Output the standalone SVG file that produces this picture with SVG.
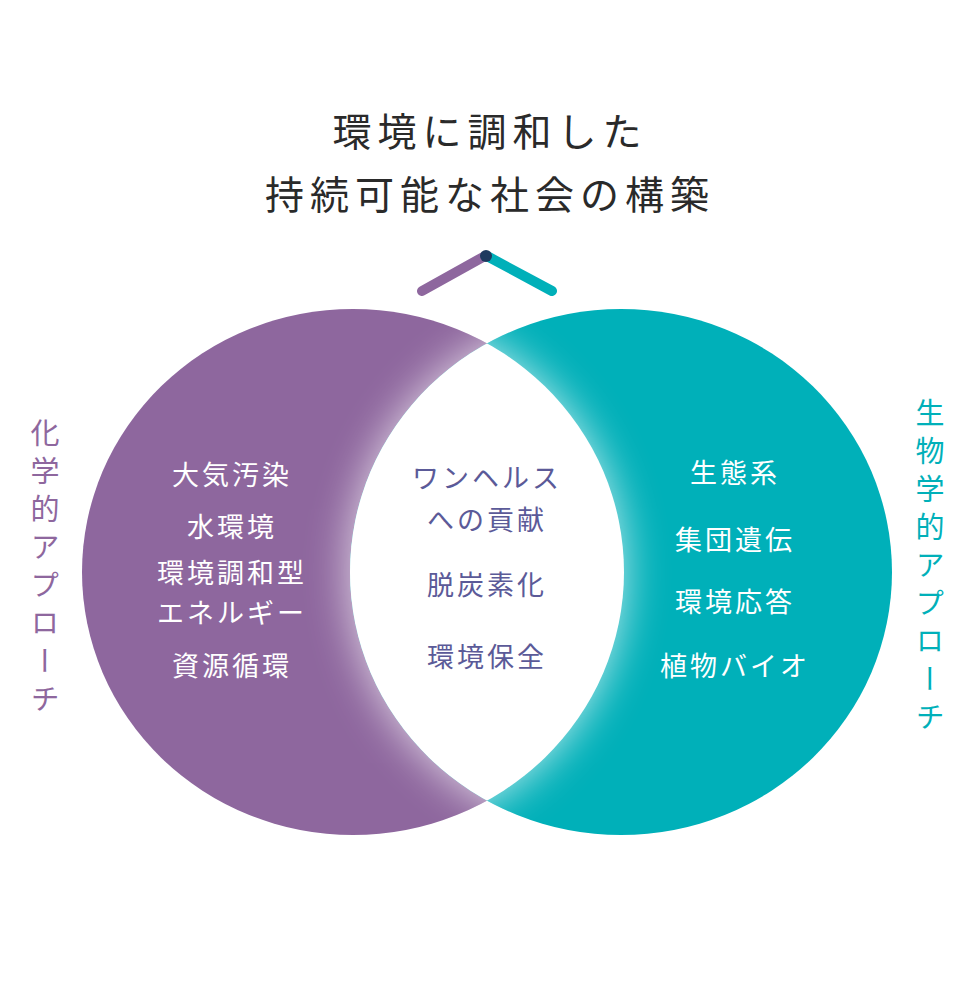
<svg xmlns="http://www.w3.org/2000/svg" width="976" height="998" viewBox="0 0 976 998">
<style>
text{font-family:"Noto Sans CJK JP","Noto Sans",sans-serif;text-anchor:middle}
.t{font-size:39px;fill:#2a2a2a;letter-spacing:6px}
.w{font-size:27px;fill:#fff;letter-spacing:3px}
.c{font-size:27px;fill:#5b5a98;letter-spacing:3px}
.v{font-size:29px;writing-mode:vertical-rl;letter-spacing:9px;text-anchor:start}
</style>
<defs>
<clipPath id="cl"><ellipse cx="353" cy="572" rx="271" ry="263"/></clipPath>
<clipPath id="cr"><ellipse cx="621" cy="572" rx="271" ry="263"/></clipPath>
<filter id="b" x="-50%" y="-50%" width="200%" height="200%"><feGaussianBlur stdDeviation="22"/></filter>
</defs>
<g id="title">
<text class="t" x="490" y="146">環境に調和した</text>
<text class="t" x="490" y="209">持続可能な社会の構築</text>
</g>
<g id="left-circle">
<ellipse cx="353" cy="572" rx="271" ry="263" fill="#8e679e"/>
<g clip-path="url(#cl)"><ellipse cx="621" cy="572" rx="271" ry="263" fill="#fff" opacity="0.75" filter="url(#b)"/></g>
</g>
<g id="right-circle">
<ellipse cx="621" cy="572" rx="271" ry="263" fill="#00b0b9"/>
<g clip-path="url(#cr)"><ellipse cx="353" cy="572" rx="271" ry="263" fill="#fff" opacity="0.75" filter="url(#b)"/></g>
</g>
<g id="lens" clip-path="url(#cl)"><ellipse cx="621" cy="572" rx="271" ry="263" fill="#fff"/></g>
<g id="connectors" stroke-linecap="round" stroke-width="10" fill="none">
<line x1="422" y1="291" x2="485" y2="256" stroke="#8e679e"/>
<line x1="487" y1="256" x2="552" y2="291" stroke="#00b0b9"/>
<circle cx="486" cy="256" r="6" fill="#1e3a5f" stroke="none"/>
</g>
<g id="left-label"><text class="v" x="45" y="418" fill="#8e679e">化学的アプローチ</text></g>
<g id="right-label"><text class="v" x="930" y="398" fill="#00b0b9">生物学的アプローチ</text></g>
<g id="left-items">
<text class="w" x="232" y="485">大気汚染</text>
<text class="w" x="232" y="537">水環境</text>
<text class="w" x="232" y="583">環境調和型</text>
<text class="w" x="232" y="623">エネルギー</text>
<text class="w" x="232" y="676">資源循環</text>
</g>
<g id="center-items">
<text class="c" x="487" y="488">ワンヘルス</text>
<text class="c" x="487" y="530">への貢献</text>
<text class="c" x="487" y="595">脱炭素化</text>
<text class="c" x="487" y="667">環境保全</text>
</g>
<g id="right-items">
<text class="w" x="735" y="483">生態系</text>
<text class="w" x="735" y="550">集団遺伝</text>
<text class="w" x="735" y="612">環境応答</text>
<text class="w" x="735" y="676">植物バイオ</text>
</g>
</svg>
